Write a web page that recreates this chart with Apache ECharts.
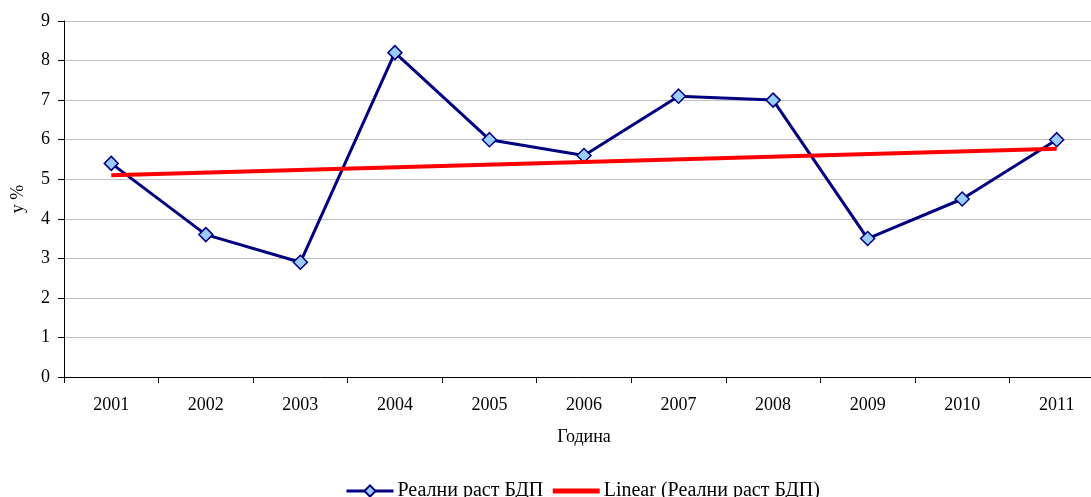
<!DOCTYPE html>
<html>
<head>
<meta charset="utf-8">
<script src="https://cdn.jsdelivr.net/npm/echarts@6/dist/echarts.min.js"></script>
<style>html,body{margin:0;padding:0;background:#fff}#c{width:1091px;height:497px}</style>
</head>
<body>
<div id="c"></div>
<script>
var years = ['2001','2002','2003','2004','2005','2006','2007','2008','2009','2010','2011'];
var gdpGrowth = [5.4, 3.6, 2.9, 8.2, 6.0, 5.6, 7.1, 7.0, 3.5, 4.5, 6.0];
var trendLine = [5.1, null, null, null, null, null, null, null, null, null, 5.77];
var seriesNames = ['Реални раст БДП', 'Linear (Реални раст БДП)'];

var font = '"Liberation Serif", "Times New Roman", serif';
var chart = echarts.init(document.getElementById('c'), null, {renderer: 'canvas'});
chart.setOption({
  animation: false,
  backgroundColor: '#fff',
  textStyle: {fontFamily: font},
  grid: {left: 64, right: -13, top: 21, bottom: 120, containLabel: false, outerBoundsMode: 'none'},
  legend: {
    top: 476, left: 340,
    itemWidth: 47, itemHeight: 14, itemGap: 7,
    textStyle: {fontFamily: font, fontSize: 20, color: '#000', padding: [0, 0, 0, -1]},
    data: [
      {name: seriesNames[0], lineStyle: {color: '#000080', width: 3}},
      {name: seriesNames[1], itemStyle: {color: 'rgba(0,0,0,0)', borderWidth: 0, opacity: 0}, lineStyle: {color: '#ff0000', width: 5}}
    ]
  },
  xAxis: {
    type: 'category', data: years, boundaryGap: true,
    name: 'Година', nameLocation: 'middle', nameGap: 51,
    nameTextStyle: {fontFamily: font, fontSize: 18, color: '#000'},
    axisLine: {lineStyle: {color: '#000', width: 1}},
    axisTick: {show: true, length: 6, lineStyle: {color: '#000'}},
    axisLabel: {fontFamily: font, fontSize: 18, color: '#000', margin: 19}
  },
  yAxis: {
    type: 'value', min: 0, max: 9, interval: 1,
    name: 'у %', nameLocation: 'middle', nameGap: 37, nameRotate: 90,
    nameTextStyle: {fontFamily: font, fontSize: 18, color: '#000'},
    axisLine: {show: true, lineStyle: {color: '#000', width: 1}},
    axisTick: {show: true, length: 6, lineStyle: {color: '#000'}},
    axisLabel: {fontFamily: font, fontSize: 18, color: '#000', margin: 14},
    splitLine: {show: true, lineStyle: {color: '#c0c0c0', width: 1}}
  },
  series: [
    {
      name: seriesNames[0], type: 'line', data: gdpGrowth,
      symbol: 'diamond', symbolSize: 14, showAllSymbol: true,
      lineStyle: {color: '#000080', width: 3},
      itemStyle: {color: '#99ccff', borderColor: '#000080', borderWidth: 1.5},
      z: 3
    },
    {
      name: seriesNames[1], type: 'line', data: trendLine, connectNulls: true,
      symbol: 'none',
      lineStyle: {color: '#ff0000', width: 4},
      itemStyle: {color: '#ff0000'},
      z: 4
    }
  ]
});
</script>
</body>
</html>
